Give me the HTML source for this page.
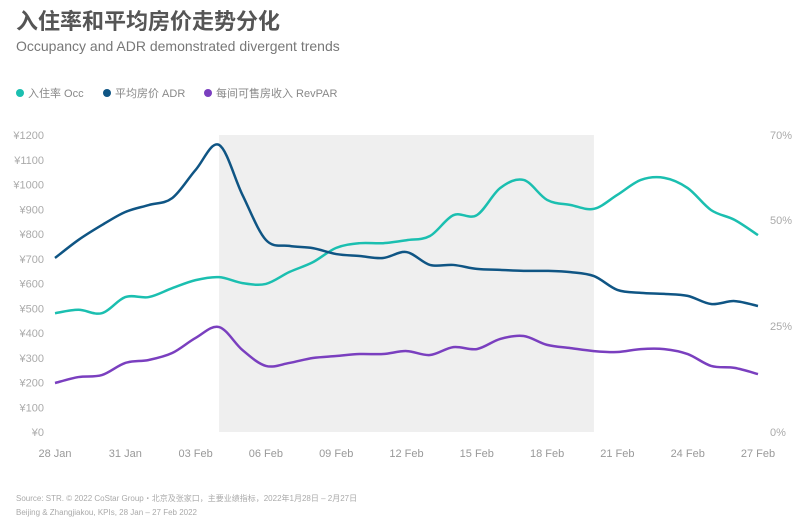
<!DOCTYPE html>
<html><head><meta charset="utf-8"><style>
body{margin:0;background:#fff;width:800px;height:526px;overflow:hidden;font-family:"Liberation Sans","Noto Sans CJK SC",sans-serif}
</style></head><body>
<svg width="800" height="526" viewBox="0 0 800 526" xmlns="http://www.w3.org/2000/svg">
<text x="16" y="29" font-size="22" font-weight="bold" fill="#555" font-family="Liberation Sans,Noto Sans CJK SC,sans-serif">入住率和平均房价走势分化</text>
<text x="16" y="51" font-size="14" fill="#777">Occupancy and ADR demonstrated divergent trends</text>
<g id="legend" font-size="11" fill="#888"></g>
<g id="plot"></g>
<text x="16" y="501" font-size="8" fill="#aaa">Source: STR. © 2022 CoStar Group・北京及张家口，主要业绩指标，2022年1月28日 – 2月27日</text>
<text x="16" y="515" font-size="8" fill="#aaa">Beijing &amp; Zhangjiakou, KPIs, 28 Jan – 27 Feb 2022</text>
</svg>
<script>
const xLabels=["28 Jan","31 Jan","03 Feb","06 Feb","09 Feb","12 Feb","15 Feb","18 Feb","21 Feb","24 Feb","27 Feb"];
const leftTicks=[0,100,200,300,400,500,600,700,800,900,1000,1100,1200];
const rightTicks=[0,25,50,70];
const shadeRange=[7,23];
const occ=[28.0,28.8,28.0,31.8,31.8,33.9,35.8,36.5,35.1,34.9,37.7,40.0,43.4,44.5,44.5,45.2,46.2,51.1,51.1,57.5,59.4,54.7,53.5,52.6,55.9,59.4,59.9,57.5,52.3,50.0,46.4];
const adr=[703,776,836,889,917,945,1059,1160,958,776,752,743,719,711,703,727,675,675,659,655,651,651,646,630,574,562,558,550,517,529,509];
const revpar=[198,222,230,279,291,319,380,424,331,267,279,299,307,315,315,327,311,343,335,376,388,352,339,327,323,335,335,315,267,259,234];

const NS="http://www.w3.org/2000/svg";
const plot=document.getElementById('plot');
const X0=55,X1=758,Y0=432,Y1=135;
const nDays=adr.length-1;
const xs=i=>X0+(X1-X0)*i/nDays;
const yL=v=>Y0-(Y0-Y1)*v/1200;
const yR=v=>Y0-(Y0-Y1)*v/70;
function mk(t,a,p){const e=document.createElementNS(NS,t);for(const k in a)e.setAttribute(k,a[k]);(p||plot).appendChild(e);return e;}

const sh=mk('rect',{x:xs(shadeRange[0]),y:Y1,width:xs(shadeRange[1])-xs(shadeRange[0]),height:Y0-Y1,fill:'#efefef'});



leftTicks.forEach(v=>{const t=mk('text',{x:44,y:yL(v)+4,'font-size':11,fill:'#aaa','text-anchor':'end'});t.textContent='¥'+v;

});
rightTicks.forEach(v=>{const t=mk('text',{x:770,y:yR(v)+4,'font-size':11,fill:'#aaa'});t.textContent=v+'%';

});
xLabels.forEach((l,i)=>{const t=mk('text',{x:xs(i*3),y:457,'font-size':11,fill:'#999','text-anchor':'middle'});t.textContent=l;

});

function path(vals,yf){const p=vals.map((v,i)=>[xs(i),yf(v)]);let d='M'+p[0][0]+','+p[0][1];
for(let i=0;i<p.length-1;i++){const a=p[Math.max(0,i-1)],b=p[i],c=p[i+1],e=p[Math.min(p.length-1,i+2)];
const c1=[b[0]+(c[0]-a[0])/6,b[1]+(c[1]-a[1])/6],c2=[c[0]-(e[0]-b[0])/6,c[1]-(e[1]-b[1])/6];
d+=' C'+c1.join(',')+' '+c2.join(',')+' '+c.join(',');}return d;}
const series=[[occ,yR,'#1bbfb0','occ-line'],[adr,yL,'#0f5584','adr-line'],[revpar,yL,'#7a3fbf','revpar-line']];
series.forEach(s=>{const e=mk('path',{d:path(s[0],s[1]),fill:'none',stroke:s[2],'stroke-width':2.5,'stroke-linejoin':'round'});

});

const lg=document.getElementById('legend');
const items=[['入住率 Occ','#1bbfb0',16],['平均房价 ADR','#0f5584',103],['每间可售房收入 RevPAR','#7a3fbf',204]];
items.forEach(it=>{const c=mk('circle',{cx:it[2]+4,cy:93,r:4,fill:it[1]},lg);


const t=mk('text',{x:it[2]+12,y:97,'font-size':11,fill:'#888'},lg);t.textContent=it[0];

});
</script>
</body></html>
